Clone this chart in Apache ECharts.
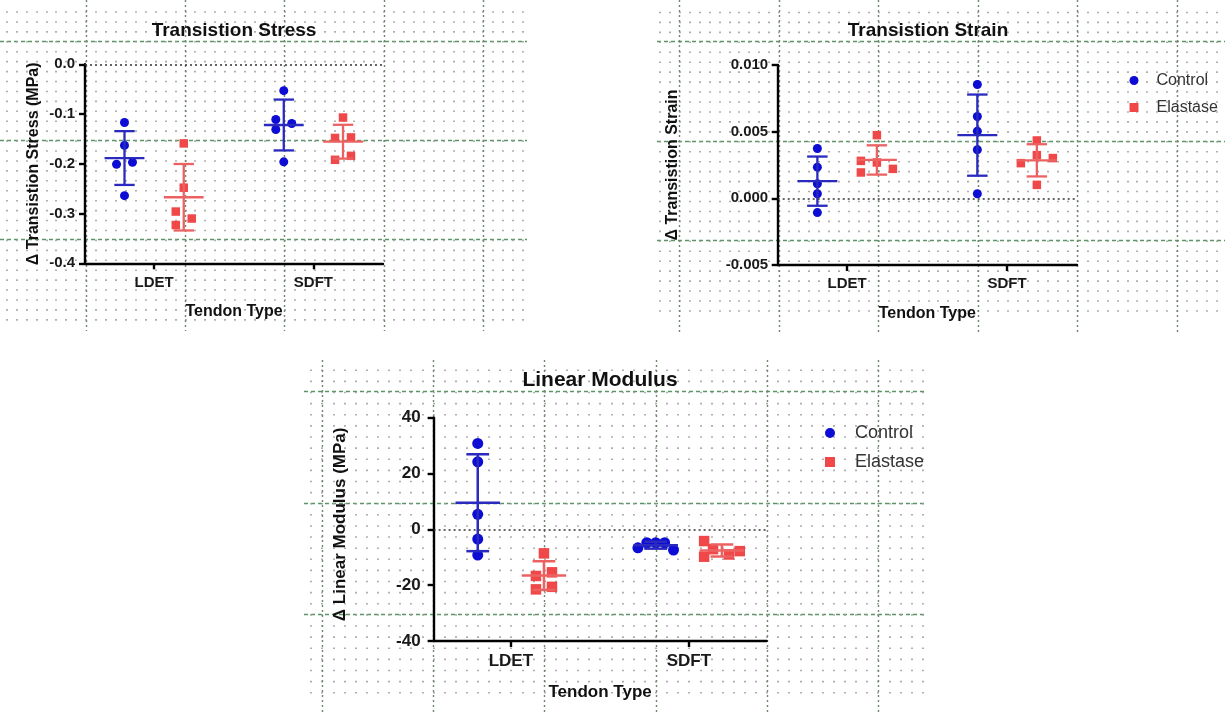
<!DOCTYPE html>
<html>
<head>
<meta charset="utf-8">
<script src="https://cdn.jsdelivr.net/npm/echarts@6/dist/echarts.min.js"></script>
<style>
  html, body { margin: 0; padding: 0; background: #ffffff; }
  #chart { width: 1225px; height: 712px; }
</style>
</head>
<body>
<div id="chart"></div>
<script>
// ---- data -----------------------------------------------------------------
const tendonTypes = ['LDET', 'SDFT'];
const groupNames = ['Control', 'Elastase'];

// Δ transition stress (MPa); one row per tendon type (LDET, SDFT)
const stressTicks = [-0.4, -0.3, -0.2, -0.1, 0.0];
const stressControl = [
  [-0.117, -0.163, -0.201, -0.197, -0.264],
  [-0.053, -0.111, -0.131, -0.119, -0.196]
];
const stressElastase = [
  [-0.159, -0.248, -0.296, -0.310, -0.323],
  [-0.107, -0.148, -0.147, -0.184, -0.192]
];
// sideways spread of overlapping dots (in category widths)
const stressControlSpread = [[0, 0, -0.05, 0.05, 0], [0, -0.05, -0.05, 0.05, 0]];
const stressElastaseSpread = [[0, 0, -0.05, 0.05, -0.05], [0, -0.05, 0.05, 0.05, -0.05]];

// Δ transition strain
const strainTicks = [-0.005, 0.000, 0.005, 0.010];
const strainControl = [
  [0.00374, 0.00234, 0.00109, 0.00034, -0.00107],
  [0.00854, 0.00614, 0.00504, 0.00364, 0.00034]
];
const strainElastase = [
  [0.00474, 0.00281, 0.00269, 0.00194, 0.00221],
  [0.00434, 0.00264, 0.00324, 0.00302, 0.00101]
];
const strainControlSpread = [[0, 0, 0, 0, 0], [0, 0, 0, 0, 0]];
const strainElastaseSpread = [[0, -0.1, 0, -0.1, 0.1], [0, -0.1, 0, 0.1, 0]];

// Δ linear modulus (MPa)
const modulusTicks = [-40, -20, 0, 20, 40];
const modulusControl = [
  [30.8, 24.2, 5.4, -3.5, -9.2],
  [-6.6, -4.8, -4.8, -4.8, -7.4]
];
const modulusElastase = [
  [-8.6, -16.7, -15.4, -21.5, -20.6],
  [-4.2, -9.8, -7.1, -9.0, -7.8]
];
const modulusControlSpread = [[0, 0, 0, 0, 0], [-0.1, -0.05, 0, 0.05, 0.1]];
const modulusElastaseSpread = [[0, -0.045, 0.045, -0.045, 0.045], [-0.1, -0.1, -0.05, 0.04, 0.1]];

// ---- helpers --------------------------------------------------------------
const FONT = '"Liberation Sans", Arial, Helvetica, sans-serif';
const CTRL_DOT = '#0c0cd4', CTRL_BAR = '#2a2abf';
const ELAS_DOT = '#f04848', ELAS_BAR = '#ec6262';
const GROUP_SHIFT = 0.186;      // horizontal offset of each group from its tick
const MEAN_HALF = 0.125;        // half-length of the mean line (category units)
const CAP_HALF = 0.064;         // half-length of the SD caps

function mean(a) { return a.reduce((s, v) => s + v, 0) / a.length; }
function sd(a) {
  const m = mean(a);
  return Math.sqrt(a.reduce((s, v) => s + (v - m) * (v - m), 0) / (a.length - 1));
}

const grids = [], xAxes = [], yAxes = [], series = [];

function hiddenAxis(gridIndex, max) {
  return {
    type: 'value', gridIndex, min: 0, max, interval: 1, silent: true,
    axisLine: { show: false }, axisTick: { show: false }, axisLabel: { show: false },
    splitLine: { show: false }
  };
}

// graph-paper backdrop: dot lattice plus green dashed major lines
function paper(p) {
  const minor = p.step / 10;
  const dx0 = p.ox - Math.floor((p.ox - p.x0 - 2) / minor) * minor;
  const nc = Math.floor((p.x1 - 2 - dx0) / minor);
  const dy0 = p.oy - Math.floor((p.oy - p.y0 - 2) / minor) * minor;
  const nr = Math.floor((p.y1 - 2 - dy0) / minor);
  let g = grids.length;
  grids.push({ left: dx0, top: dy0, width: nc * minor, height: nr * minor });
  const dotX = hiddenAxis(g, nc);
  dotX.splitLine = { show: true, lineStyle: { color: '#9c9c9c', width: 1.6, type: [1.6, minor - 1.6] } };
  xAxes.push(dotX); yAxes.push(hiddenAxis(g, nr));

  const vx0 = p.ox - Math.floor((p.ox - p.x0) / p.step) * p.step;
  const nv = Math.floor((p.x1 - vx0) / p.step);
  g = grids.length;
  grids.push({ left: vx0, top: p.y0, width: nv * p.step, height: p.y1 - p.y0 });
  const vX = hiddenAxis(g, nv);
  vX.splitLine = { show: true, lineStyle: { color: '#6f866f', width: 1.4, type: [2, 3] } };
  xAxes.push(vX); yAxes.push(hiddenAxis(g, 1));

  const hy0 = p.oy - Math.floor((p.oy - p.y0) / p.step) * p.step;
  const nh = Math.floor((p.y1 - hy0) / p.step);
  g = grids.length;
  grids.push({ left: p.x0, top: hy0, width: p.x1 - p.x0, height: nh * p.step });
  const hY = hiddenAxis(g, nh);
  hY.splitLine = { show: true, lineStyle: { color: '#5a9665', width: 1.4, type: [4, 3] } };
  xAxes.push(hiddenAxis(g, 1)); yAxes.push(hY);
}

function panel(p) {
  const g = grids.length;
  grids.push(p.grid);
  const axisStyle = { color: '#000', width: 2.4 };
  xAxes.push({
    type: 'value', gridIndex: g, min: 0.566, max: 2.437,
    axisLine: { show: true, onZero: false, lineStyle: axisStyle },
    axisTick: { show: true, customValues: [1, 2], length: 6, lineStyle: axisStyle },
    axisLabel: {
      show: true, customValues: [1, 2], margin: p.labelMargin,
      formatter: v => tendonTypes[Math.round(v) - 1],
      fontFamily: FONT, fontSize: p.tickFont, fontWeight: 'bold', color: '#1a1a1a'
    },
    splitLine: { show: false },
    name: 'Tendon Type', nameLocation: 'middle', nameGap: p.xNameGap,
    nameTextStyle: { fontFamily: FONT, fontSize: p.nameFont, fontWeight: 'bold', color: '#111' }
  });
  const ticks = p.ticks;
  yAxes.push({
    type: 'value', gridIndex: g, min: ticks[0], max: ticks[ticks.length - 1],
    interval: ticks[1] - ticks[0],
    axisLine: { show: true, onZero: false, lineStyle: axisStyle },
    axisTick: { show: true, length: 6, lineStyle: axisStyle },
    axisLabel: {
      margin: p.yLabelMargin, formatter: v => v.toFixed(p.decimals).replace(/^-(0\.?0*)$/, '$1'),
      fontFamily: FONT, fontSize: p.tickFont, fontWeight: 'bold', color: '#1a1a1a'
    },
    splitLine: { show: false },
    name: p.yName, nameLocation: 'middle', nameGap: p.yNameGap,
    nameTextStyle: { fontFamily: FONT, fontSize: p.nameFont, fontWeight: 'bold', color: '#111',
      padding: p.yNamePad || 0 }
  });

  const sets = [
    { name: 'Control', vals: p.control, spread: p.controlSpread, shift: -GROUP_SHIFT,
      dot: CTRL_DOT, bar: CTRL_BAR, symbol: 'circle', size: p.dotSize },
    { name: 'Elastase', vals: p.elastase, spread: p.elastaseSpread, shift: GROUP_SHIFT,
      dot: ELAS_DOT, bar: ELAS_BAR, symbol: 'rect', size: p.dotSize - 0.5 }
  ];
  sets.forEach((s, si) => {
    const pts = [];
    s.vals.forEach((arr, ti) => arr.forEach((v, j) => {
      pts.push([ti + 1 + s.shift + s.spread[ti][j], v]);
    }));
    const sc = {
      type: 'scatter', name: s.name, xAxisIndex: g, yAxisIndex: g, z: 3,
      symbol: s.symbol, symbolSize: s.size, itemStyle: { color: s.dot, opacity: 1 },
      data: pts, silent: true
    };
    if (si === 0) {
      sc.markLine = {
        silent: true, symbol: ['none', 'none'], label: { show: false },
        lineStyle: { type: [2, 3], color: '#333', width: 1.6 },
        emphasis: { disabled: true }, data: [{ yAxis: 0 }]
      };
    }
    series.push(sc);
    const stats = s.vals.map((arr, ti) => [ti + 1 + s.shift, mean(arr), sd(arr)]);
    series.push({
      type: 'custom', name: s.name + ' mean ± SD', xAxisIndex: g, yAxisIndex: g, z: 4,
      silent: true, data: stats,
      renderItem(params, api) {
        const x = api.value(0), m = api.value(1), d = api.value(2);
        const c = api.coord([x, m]);
        const hi = api.coord([x, m + d]);
        const lo = api.coord([x, m - d]);
        const mh = api.size([MEAN_HALF, 0])[0];
        const ch = api.size([CAP_HALF, 0])[0];
        const style = { stroke: s.bar, lineWidth: p.barWidth, fill: null };
        return {
          type: 'group',
          children: [
            { type: 'line', shape: { x1: hi[0], y1: hi[1], x2: lo[0], y2: lo[1] }, style },
            { type: 'line', shape: { x1: c[0] - mh, y1: c[1], x2: c[0] + mh, y2: c[1] }, style },
            { type: 'line', shape: { x1: hi[0] - ch, y1: hi[1], x2: hi[0] + ch, y2: hi[1] }, style },
            { type: 'line', shape: { x1: lo[0] - ch, y1: lo[1], x2: lo[0] + ch, y2: lo[1] }, style }
          ]
        };
      }
    });
  });
}

// ---- backdrops ------------------------------------------------------------
paper({ x0: 0, x1: 527, y0: 0, y1: 331, ox: 86, oy: 41, step: 99.3 });
paper({ x0: 657, x1: 1225, y0: 0, y1: 332, ox: 779, oy: 41.5, step: 99.5 });
paper({ x0: 304, x1: 927, y0: 360, y1: 712, ox: 433.4, oy: 391.7, step: 111.2 });

// ---- panels ---------------------------------------------------------------
panel({
  grid: { left: 85, top: 64.3, width: 298, height: 199 },
  ticks: stressTicks, decimals: 1,
  control: stressControl, elastase: stressElastase,
  controlSpread: stressControlSpread, elastaseSpread: stressElastaseSpread,
  yName: '\u0394 Transistion Stress (MPa)', yNameGap: 43, xNameGap: 40,
  labelMargin: 12, yLabelMargin: 10, tickFont: 15, nameFont: 16,
  dotSize: 9, barWidth: 2.3
});
panel({
  grid: { left: 777.7, top: 65, width: 299.3, height: 200 },
  ticks: strainTicks, decimals: 3,
  control: strainControl, elastase: strainElastase,
  controlSpread: strainControlSpread, elastaseSpread: strainElastaseSpread,
  yName: '\u0394 Transistion Strain', yNameGap: 97, xNameGap: 41,
  labelMargin: 11.5, yLabelMargin: 9.5, tickFont: 15, nameFont: 16,
  dotSize: 9, barWidth: 2.3
});
panel({
  grid: { left: 433.6, top: 417.7, width: 333, height: 223.3 },
  ticks: modulusTicks, decimals: 0,
  control: modulusControl, elastase: modulusElastase,
  controlSpread: modulusControlSpread, elastaseSpread: modulusElastaseSpread,
  yName: '\u0394 Linear Modulus (MPa)', yNameGap: 85, xNameGap: 43, yNamePad: [0, 0, 0, 10],
  labelMargin: 12, yLabelMargin: 13, tickFont: 17, nameFont: 17,
  dotSize: 11, barWidth: 2.5
});

const legendItems = [{ name: groupNames[0], icon: 'circle' }, { name: groupNames[1], icon: 'rect' }];

const option = {
  animation: false,
  backgroundColor: '#ffffff',
  title: [
    { text: 'Transistion Stress', left: 234, top: 21, textAlign: 'center', padding: 0,
      textStyle: { fontFamily: FONT, fontSize: 19, fontWeight: 'bold', color: '#111' } },
    { text: 'Transistion Strain', left: 928, top: 21, textAlign: 'center', padding: 0,
      textStyle: { fontFamily: FONT, fontSize: 19, fontWeight: 'bold', color: '#111' } },
    { text: 'Linear Modulus', left: 600, top: 370, textAlign: 'center', padding: 0,
      textStyle: { fontFamily: FONT, fontSize: 21, fontWeight: 'bold', color: '#111' } }
  ],
  legend: [
    { left: 1129.5, top: 72.5, orient: 'vertical', padding: 0, itemWidth: 9, itemHeight: 9,
      itemGap: 11, selectedMode: false, data: legendItems,
      textStyle: { fontFamily: FONT, fontSize: 16, color: '#333', padding: [0, 0, 0, 13] } },
    { left: 825, top: 424, orient: 'vertical', padding: 0, itemWidth: 10, itemHeight: 10,
      itemGap: 11, selectedMode: false, data: legendItems,
      textStyle: { fontFamily: FONT, fontSize: 18, color: '#333', padding: [0, 0, 0, 15] } }
  ],
  grid: grids,
  xAxis: xAxes,
  yAxis: yAxes,
  series: series
};

const chart = echarts.init(document.getElementById('chart'), null, { renderer: 'canvas' });
chart.setOption(option);
</script>
</body>
</html>
